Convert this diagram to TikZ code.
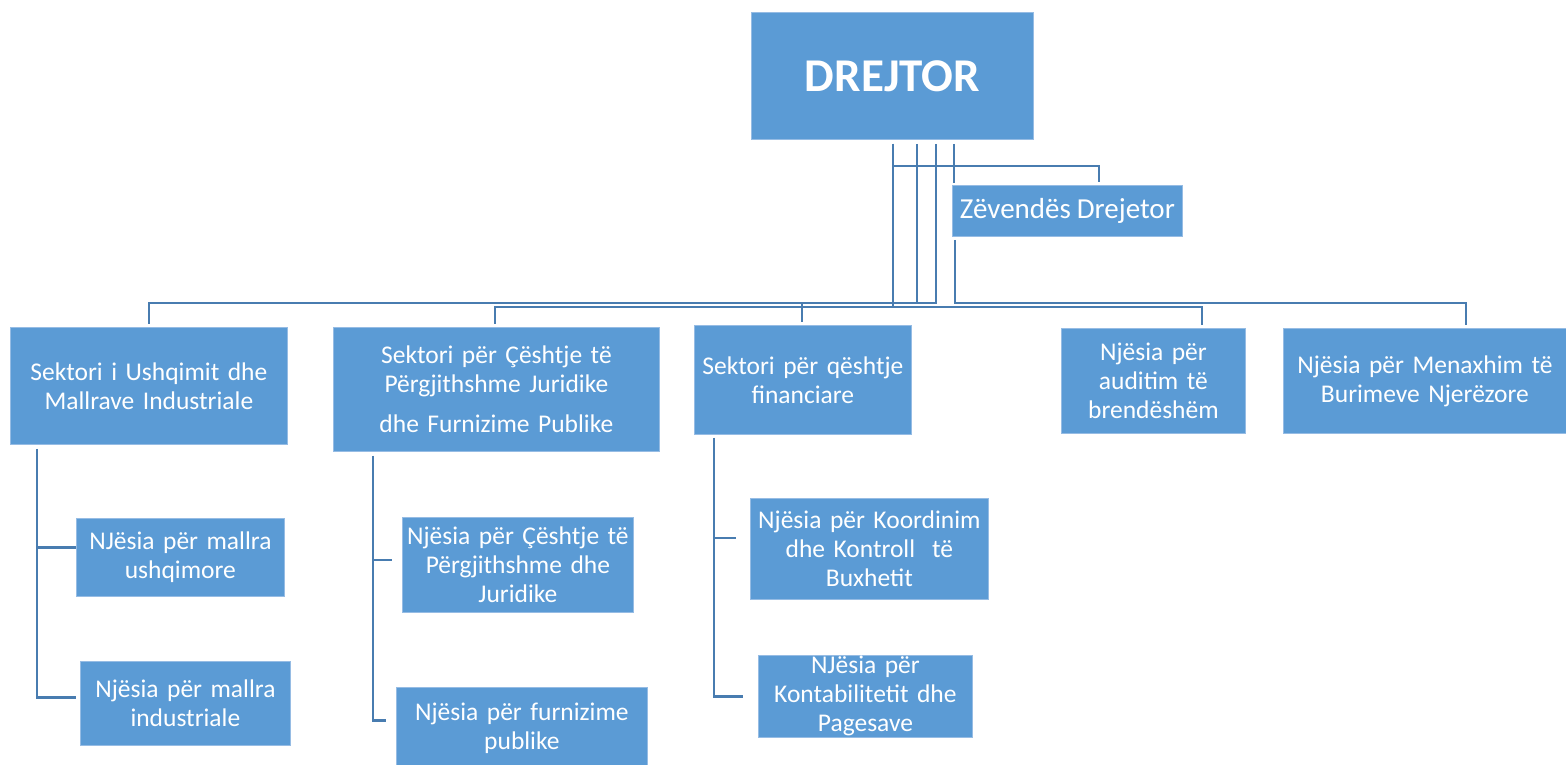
\documentclass[tikz,border=0pt]{standalone}
\usepackage{fontspec}
\setmainfont{Carlito}[WordSpace=0.9]
\definecolor{boxblue}{RGB}{91,155,213}
\definecolor{boxedge}{RGB}{150,188,228}
\definecolor{linecol}{RGB}{72,124,176}
\begin{document}
\begin{tikzpicture}[x=1pt,y=-1pt,
  box/.style={fill=boxblue,draw=boxedge,line width=0.8pt,text=white,align=center,
    inner sep=0pt,anchor=north west,font=\fontsize{25.5}{29}\selectfont},
  conn/.style={draw=linecol,line width=2.6pt}]
\useasboundingbox (0,0) rectangle (1566,765);
% top
\node[box,minimum width=282pt,minimum height=127pt,font=\fontsize{47}{56}\selectfont\bfseries] (d) at (751,12) {DREJTOR};
\node[box,minimum width=230pt,minimum height=51pt,font=\fontsize{29}{34}\selectfont] (z) at (952,185) {Zëvendës Drejetor};
% sectors
\node[box,minimum width=277pt,minimum height=117pt,text width=277pt] (s1) at (10,327) {Sektori i Ushqimit dhe\\Mallrave Industriale};
\node[box,minimum width=326pt,minimum height=124pt,text width=326pt] (s2) at (333,327) {Sektori për Çështje të\\Përgjithshme Juridike\\[11pt]dhe Furnizime Publike};
\node[box,minimum width=217pt,minimum height=109pt,text width=217pt] (s3) at (694,325) {Sektori për qështje\\financiare};
\node[box,minimum width=184pt,minimum height=105pt,text width=184pt] (s4) at (1061,328) {Njësia për\\auditim të\\brendëshëm};
\node[box,minimum width=283pt,minimum height=105pt,text width=283pt] (s5) at (1283,328) {Njësia për Menaxhim të\\Burimeve Njerëzore};
% children
\node[box,minimum width=208pt,minimum height=78pt,text width=208pt] (c1) at (76,518) {NJësia për mallra\\ushqimore};
\node[box,minimum width=210pt,minimum height=84pt,text width=210pt] (c2) at (80,661) {Njësia për mallra\\industriale};
\node[box,minimum width=231pt,minimum height=95pt,text width=231pt] (c3) at (402,517) {Njësia për Çështje të\\Përgjithshme dhe\\Juridike};
\node[box,minimum width=251pt,minimum height=82pt,text width=251pt] (c4) at (396,687) {Njësia për furnizime\\publike};
\node[box,minimum width=238pt,minimum height=101pt,text width=238pt] (c5) at (750,498) {Njësia për Koordinim\\dhe Kontroll~ të\\Buxhetit};
\node[box,minimum width=214pt,minimum height=82pt,text width=214pt] (c6) at (758,655) {NJësia për\\Kontabilitetit dhe\\Pagesave};
% connectors from director
\draw[conn,shorten <=4pt,shorten >=3pt] ([xshift=142pt]d.south west) -- ++(0,26) -| ([xshift=147pt]z.north west);
\draw[conn,shorten <=4pt,shorten >=3pt] ([xshift=203pt]d.south west) -- ++(0,46);
\draw[conn,shorten <=4pt,shorten >=3pt] ([xshift=166pt]d.south west) -- ++(0,163) -| (s1.north);
\draw[conn,shorten <=4pt,shorten >=3pt] ([xshift=142pt]d.south west) -- ++(0,167) -| ([xshift=162pt]s2.north west);
\draw[conn,shorten <=4pt,shorten >=3pt] ([xshift=185pt]d.south west) -- ++(0,163) -| ([xshift=108pt]s3.north west);
\draw[conn,shorten <=4pt,shorten >=3pt] ([xshift=142pt]d.south west) -- ++(0,167) -| ([xshift=141pt]s4.north west);
\draw[conn,shorten <=3pt,shorten >=3pt] ([xshift=3pt]z.south west) -- ++(0,66) -| ([xshift=183pt]s5.north west);
% children connectors
\draw[conn,shorten <=4pt] ([xshift=27pt]s1.south west) |- ([yshift=10pt]c1.west);
\draw[conn,shorten <=4pt,shorten >=4pt] ([xshift=27pt]s1.south west) |- ([yshift=6pt]c2.west);
\draw[conn,shorten <=4pt,shorten >=10pt] ([xshift=40pt]s2.south west) |- ([yshift=5pt]c3.west);
\draw[conn,shorten <=4pt,shorten >=10pt] ([xshift=40pt]s2.south west) |- ([yshift=8pt]c4.west);
\draw[conn,shorten <=3pt,shorten >=14pt] ([xshift=20pt]s3.south west) |- ([yshift=11pt]c5.west);
\draw[conn,shorten <=3pt,shorten >=15pt] ([xshift=20pt]s3.south west) |- (c6.west);
\end{tikzpicture}
\end{document}
